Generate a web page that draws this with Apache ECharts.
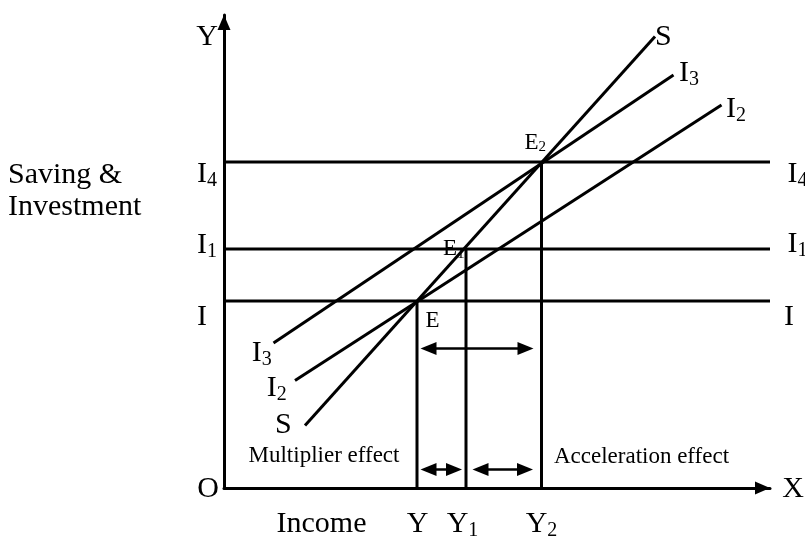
<!DOCTYPE html>
<html>
<head>
<meta charset="utf-8">
<script src="https://cdn.jsdelivr.net/npm/echarts@6/dist/echarts.min.js"></script>
<style>
  html, body { margin: 0; padding: 0; background: #fff; }
  #chart { width: 805px; height: 538px; }
</style>
</head>
<body>
<div id="chart"></div>
<script>
// income levels on the X axis (Y, Y1, Y2)
const incomeNames = ['Y', 'Y1', 'Y2'];
const incomeLevels = [38.6, 48.4, 63.5];
// autonomous investment levels (I, I1, I4)
const investNames = ['I', 'I1', 'I4'];
const investLevels = [37.4, 47.8, 65.2];
// equilibrium points sit on (income, investment) pairs
const equilibriumNames = ['E', 'E1', 'E2'];
// sloping schedules, two end points each
const savingLine = [[16.2, 12.5], [86.2, 90.3]];
const invest2Line = [[14.2, 21.5], [99.5, 76.6]];
const invest3Line = [[9.9, 29.0], [89.9, 82.6]];
// double arrows: from, to, level
const arrowFrom = [39.3, 39.3, 49.7];
const arrowTo = [61.9, 47.6, 61.8];
const arrowLevel = [27.9, 3.7, 3.7];

const X_MAX = 109.2;
const Y_MAX = 94.6;

const ink = '#000';
const serif = "'Liberation Serif', 'Times New Roman', serif";
const glyphWidth = { I: 0.333, Y: 0.722, E: 0.611 };

const labels = [
  { text: 'Y', at: [0, Y_MAX], dx: -17, dy: 22 },
  { text: 'O', at: [0, 0], dx: -16, dy: 1 },
  { text: 'X', at: [X_MAX, 0], dx: 23, dy: 1 },
  { text: 'S', at: savingLine[1], dx: 8.3, dy: 0.5 },
  { text: 'I', sub: '3', at: invest3Line[1], dx: 10.5, dy: -2 },
  { text: 'I', sub: '2', at: invest2Line[1], dx: 9.5, dy: 4 },
  { text: 'S', at: savingLine[0], dx: -21.7, dy: -0.5 },
  { text: 'I', sub: '3', at: invest3Line[0], dx: -16.8, dy: 10 },
  { text: 'I', sub: '2', at: invest2Line[0], dx: -23.3, dy: 7.5 },
  { text: 'Income', at: [0, 0], dx: 97.5, dy: 36 },
  { text: 'Multiplier effect', at: [incomeLevels[0], 0], dx: -93, dy: -32, size: 23 },
  { text: 'Acceleration effect', at: [incomeLevels[2], 0], dx: 100, dy: -31.5, size: 23 },
  { text: 'Saving &', at: [0, Y_MAX], dx: -216, dy: 160.5, align: 'left' },
  { text: 'Investment', at: [0, Y_MAX], dx: -216, dy: 191.7, align: 'left' }
];
const leftDy = [15.7, -4, 12.3];
const rightDx = [19, 22.5, 22.5];
const rightDy = [16, -4.5, 11.7];
investNames.forEach((n, i) => {
  labels.push({ text: n[0], sub: n.slice(1), at: [0, investLevels[i]], dx: -22, dy: leftDy[i] });
  labels.push({ text: n[0], sub: n.slice(1), at: [X_MAX, investLevels[i]], dx: rightDx[i], dy: rightDy[i] });
});
const eqDx = [15.5, -16, -10];
const eqDy = [20, 0, -19.5];
equilibriumNames.forEach((n, i) => {
  labels.push({ text: n[0], sub: n.slice(1), at: [incomeLevels[i], investLevels[i]], dx: eqDx[i], dy: eqDy[i], size: 23 });
});
const incDx = [0.5, -8.5, -5];
incomeNames.forEach((n, i) => {
  labels.push({ text: n[0], sub: n.slice(1), at: [incomeLevels[i], 0], dx: incDx[i], dy: 36 });
});

function straight(name, points) {
  return {
    name: name, type: 'line', data: points, symbol: 'none', silent: true,
    lineStyle: { color: ink, width: 3 }, z: 3
  };
}

const series = [];
investNames.forEach((n, i) => {
  series.push(straight(n, [[0, investLevels[i]], [X_MAX, investLevels[i]]]));
});
incomeNames.forEach((n, i) => {
  series.push(straight(n, [[incomeLevels[i], 0], [incomeLevels[i], investLevels[i]]]));
});
series.push(straight('S', savingLine), straight('I2', invest2Line), straight('I3', invest3Line));

series.push({
  type: 'custom', silent: true, z: 4,
  data: arrowFrom.map((f, i) => [f, arrowTo[i], arrowLevel[i]]),
  renderItem: function (params, api) {
    const a = api.coord([api.value(0), api.value(2)]);
    const b = api.coord([api.value(1), api.value(2)]);
    const head = 16, half = 6.5;
    return {
      type: 'group',
      children: [
        { type: 'line', shape: { x1: a[0] + head - 2, y1: a[1], x2: b[0] - head + 2, y2: b[1] },
          style: { stroke: ink, lineWidth: 2.5 } },
        { type: 'polygon', shape: { points: [[a[0], a[1]], [a[0] + head, a[1] - half], [a[0] + head, a[1] + half]] },
          style: { fill: ink } },
        { type: 'polygon', shape: { points: [[b[0], b[1]], [b[0] - head, b[1] - half], [b[0] - head, b[1] + half]] },
          style: { fill: ink } }
      ]
    };
  }
});

series.push({
  type: 'custom', silent: true, z: 5,
  data: labels.map(l => l.at),
  renderItem: function (params, api) {
    const l = labels[params.dataIndex];
    const p = api.coord([api.value(0), api.value(1)]);
    const size = l.size || 30;
    const x = p[0] + l.dx, y = p[1] + l.dy;
    const children = [{
      type: 'text', x: x, y: y,
      style: { text: l.text, fontSize: size, fontFamily: serif, fill: ink,
        align: l.align || 'center', verticalAlign: 'middle' }
    }];
    if (l.sub) {
      const w = (glyphWidth[l.text] || 0.5) * size;
      children.push({
        type: 'text', x: x + w / 2, y: y + size * 0.22,
        style: { text: l.sub, fontSize: Math.round(size * 0.66), fontFamily: serif, fill: ink,
          align: 'left', verticalAlign: 'middle' }
      });
    }
    return { type: 'group', children: children };
  }
});

const axisCommon = {
  type: 'value', min: 0,
  axisLine: { show: true, onZero: false, symbol: ['none', 'triangle'], symbolSize: [13, 15],
    symbolOffset: [0, -7.5], lineStyle: { color: ink, width: 3 } },
  axisTick: { show: false }, axisLabel: { show: false }, splitLine: { show: false }
};

const chart = echarts.init(document.getElementById('chart'), null, { renderer: 'canvas' });
chart.setOption({
  animation: false,
  backgroundColor: '#fff',
  grid: { left: 224, top: 15, right: 35, bottom: 50 },
  xAxis: Object.assign({}, axisCommon, { max: X_MAX }),
  yAxis: Object.assign({}, axisCommon, { max: Y_MAX }),
  series: series
});
</script>
</body>
</html>
